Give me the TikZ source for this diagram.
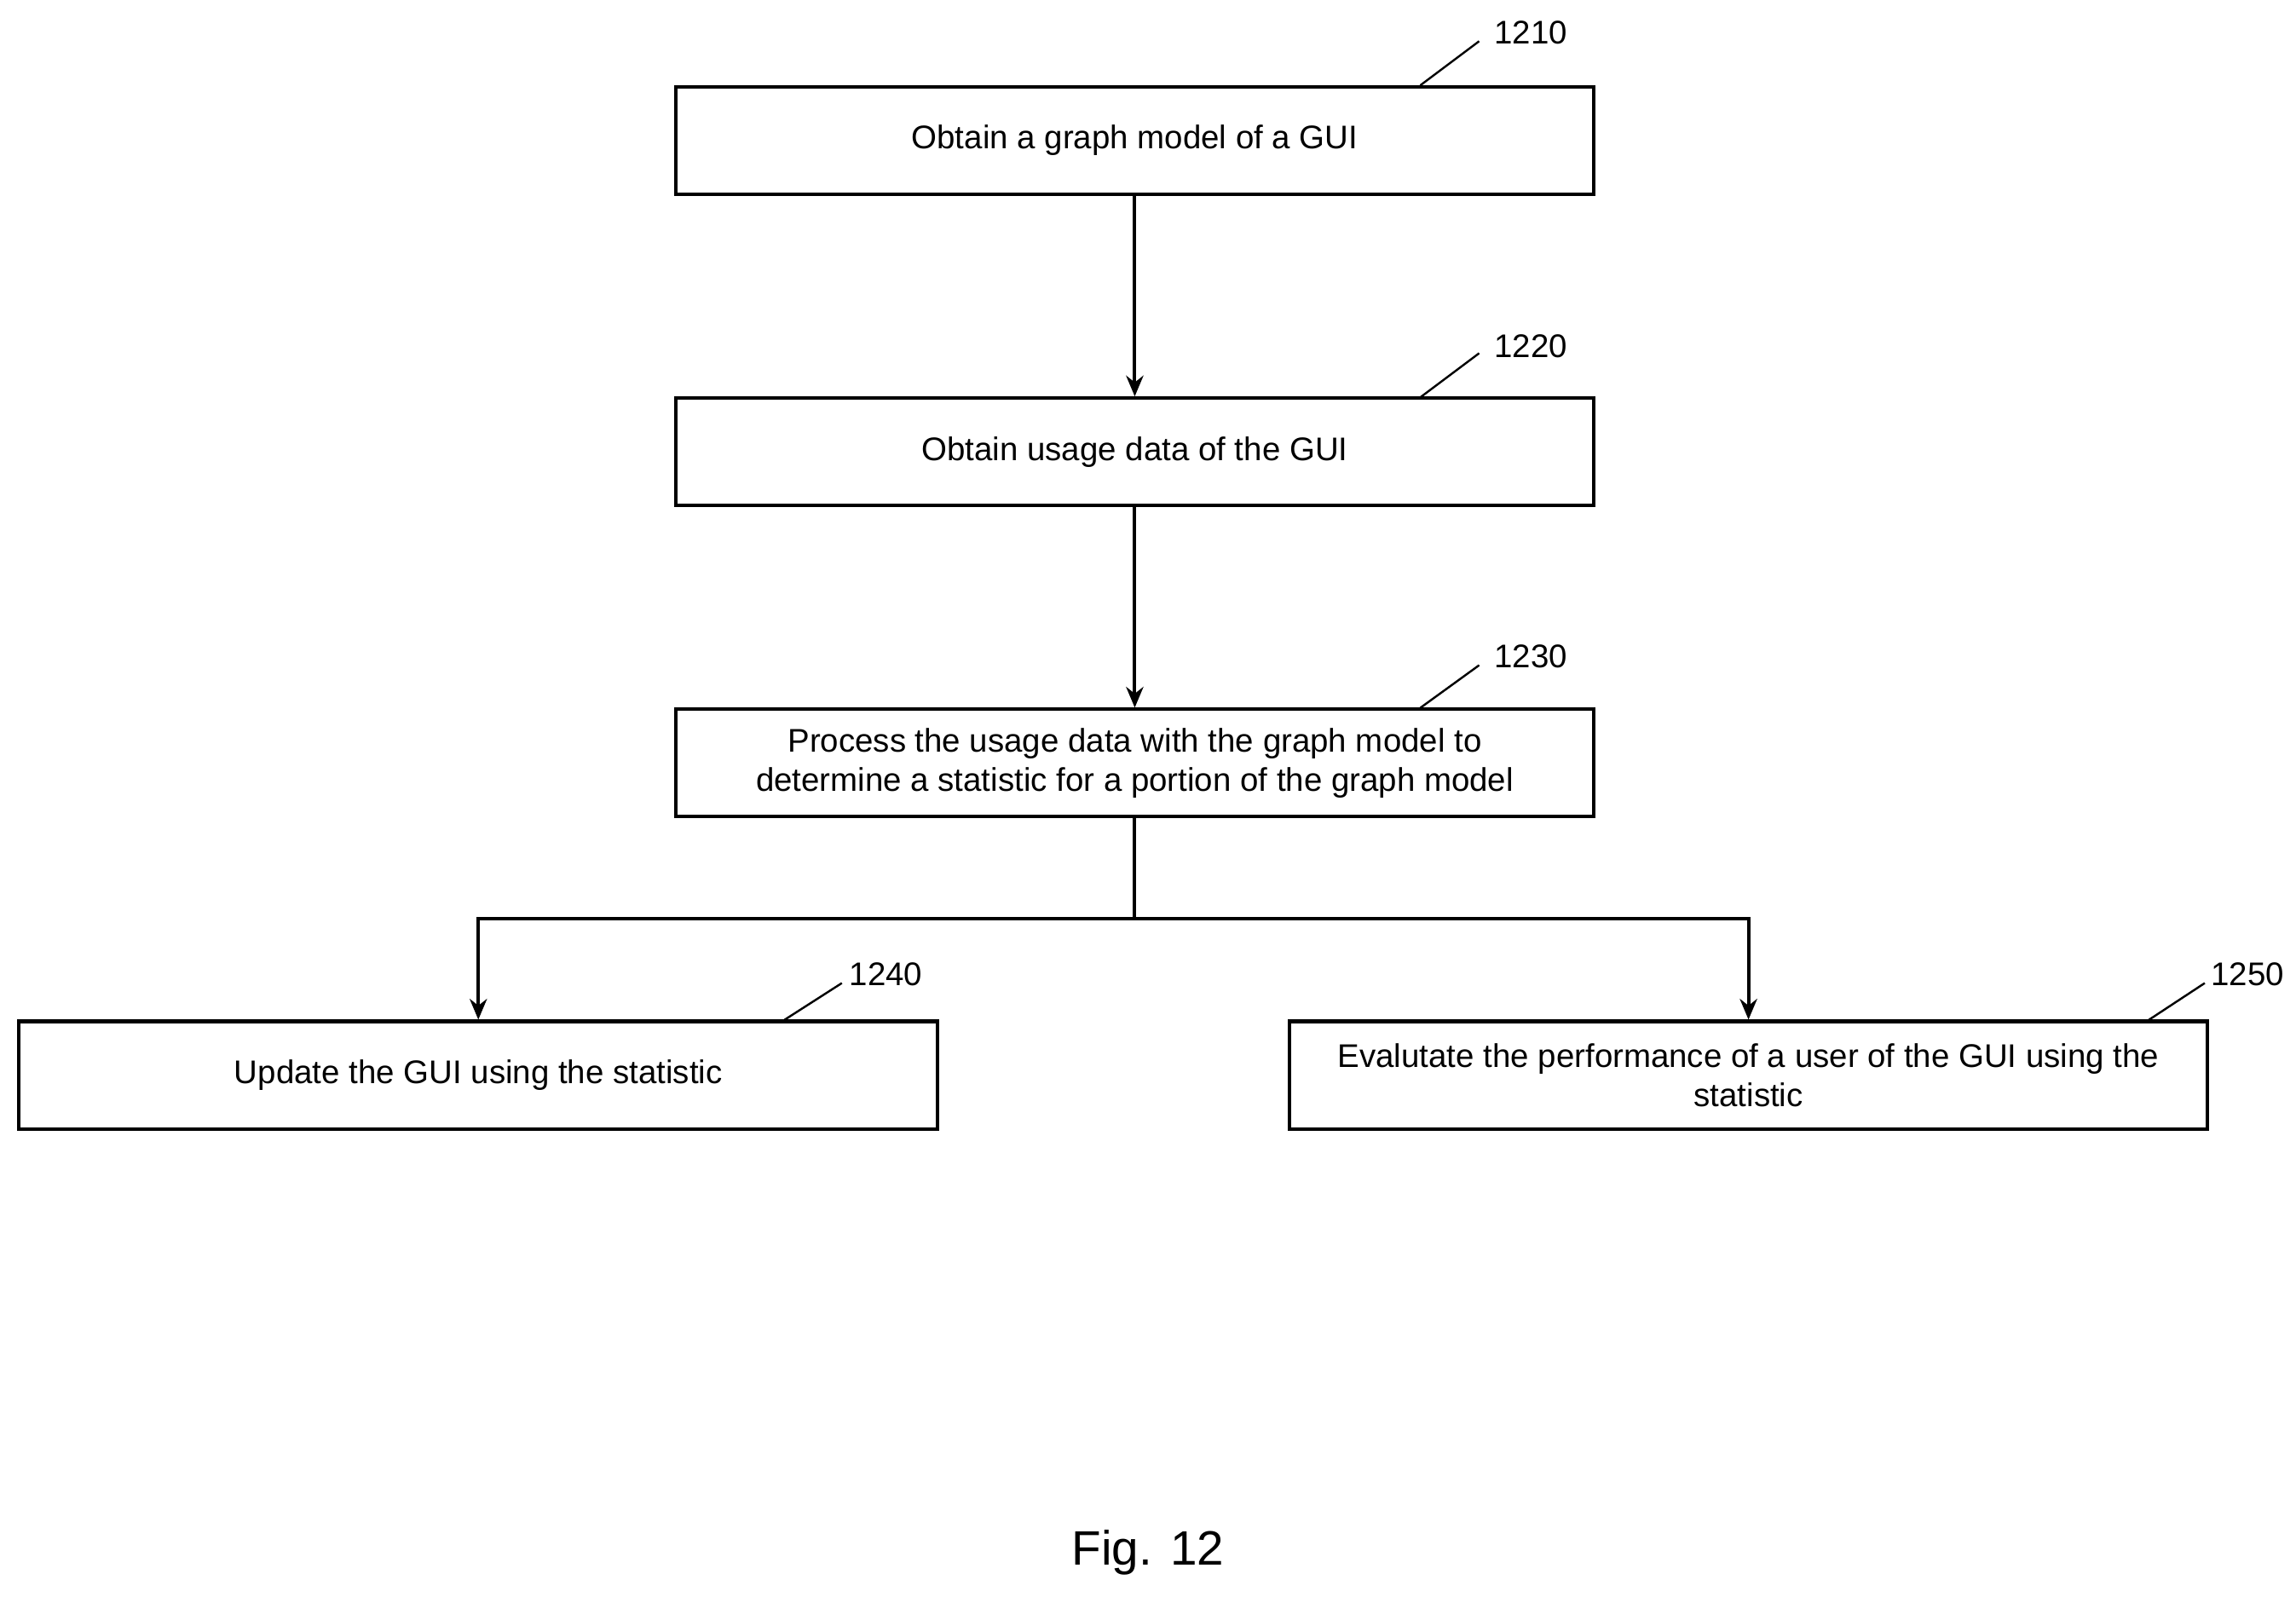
\documentclass[tikz,border=0pt]{standalone}
\usepackage{fontspec}
\setmainfont{Liberation Sans}
\usetikzlibrary{arrows.meta}
\begin{document}
\begin{tikzpicture}[x=0.03cm,y=-0.03cm,
  box/.style={draw,line width=2pt,minimum width=18.72cm,minimum height=2.19cm,align=center,font=\fontsize{19}{23}\selectfont,inner sep=0pt},
  lab/.style={font=\fontsize{19}{23}\selectfont,inner sep=0pt},
  lead/.style={line width=1.2pt},
  arr/.style={line width=2pt,-{Stealth[length=12pt,width=10pt]}}]
\useasboundingbox (0,0) rectangle (1560,1085);
\node[box] (b1) at (771,95.5) {Obtain a graph model of a GUI};
\node[box] (b2) at (771,307) {Obtain usage data of the GUI};
\node[box] (b3) at (771,518.5) {Process the usage data with the graph model to\\determine a statistic for a portion of the graph model};
\node[box] (b4) at (325,730.5) {Update the GUI using the statistic};
\node[box] (b5) at (1188,730.5) {Evalutate the performance of a user of the GUI using the\\statistic};
\node[lab] (l1) at (1040,22) {1210};
\node[lab] (l2) at (1040,235) {1220};
\node[lab] (l3) at (1040,446) {1230};
\node[lab] (l4) at (602,662) {1240};
\node[lab] (l5) at (1527,662) {1250};
\coordinate (c1) at (965,58); \coordinate (c2) at (965,270); \coordinate (c3) at (965,481);
\coordinate (c4) at (533,693); \coordinate (c5) at (1460,693);
\draw[lead] (c1) -- (1005,28); \draw[lead] (c2) -- (1005,240); \draw[lead] (c3) -- (1005,452);
\draw[lead] (c4) -- (572,668); \draw[lead] (c5) -- (1498,668);
\draw[arr] (b1) -- (b2);
\draw[arr] (b2) -- (b3);
\coordinate (j) at (771,624);
\draw[line width=2pt] (b3.south) -- (j);
\draw[arr] (j) -| (b4.north);
\draw[arr] (j) -| (b5.north);
\node[font=\fontsize{28}{32}\selectfont] (fig) at (780,1055) {Fig. 12};
\end{tikzpicture}
\end{document}
